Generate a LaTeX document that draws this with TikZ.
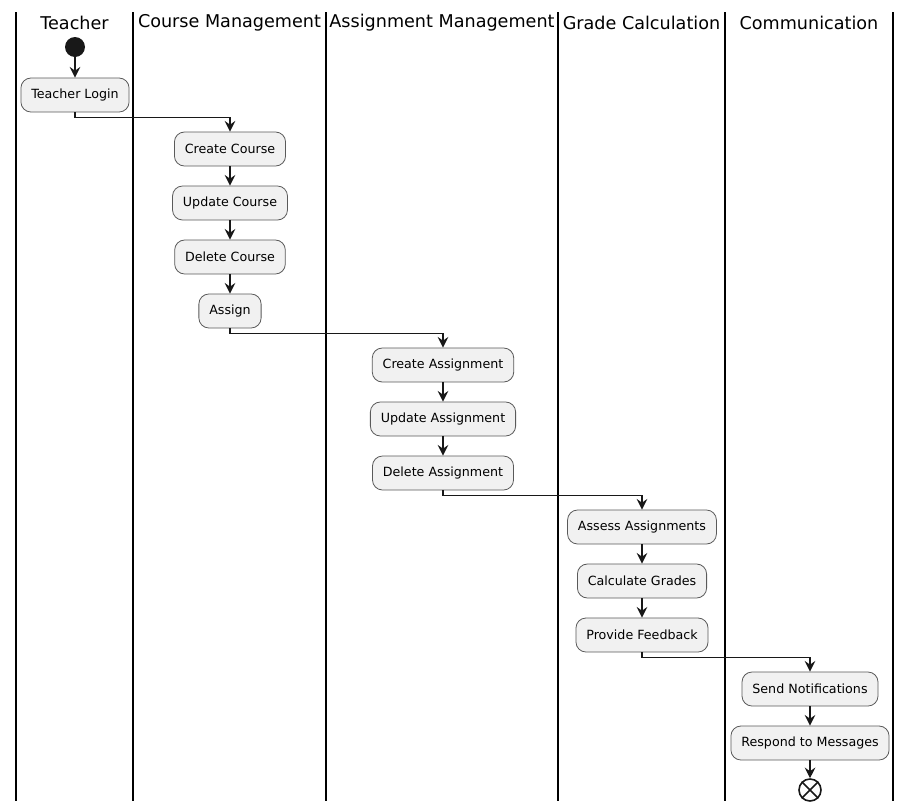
\documentclass[tikz,border=0pt]{standalone}
\usepackage{fontspec}
\setmainfont{DejaVu Sans}
\usetikzlibrary{arrows.meta}
\definecolor{ink}{HTML}{181818}
\definecolor{actfill}{HTML}{F1F1F1}
\definecolor{actline}{HTML}{5A5A5A}
\begin{document}
\begin{tikzpicture}[x=0.75pt,y=-0.75pt,
  act/.style={draw=actline, line width=0.6pt, fill=actfill, rounded corners=7.5pt,
    minimum height=25.5pt, inner xsep=7.8pt, inner ysep=0pt, text=black,
    font=\fontsize{9.5}{11}\selectfont},
  arr/.style={draw=ink, line width=0.8pt, -{Stealth[length=8pt,width=8pt,inset=2.8pt]}},
  lane/.style={draw=black, line width=1.3pt},
  hdr/.style={font=\fontsize{13.2}{16}\selectfont, text=black, inner sep=0pt}]
\useasboundingbox[fill=white] (0,0) rectangle (913,811);
% lanes
\foreach \xx in {16,133,326,558,725,893}{
  \draw[lane] (\xx,12) -- (\xx,801);
}
% headers
\node[hdr] (h1) at (74.5,22.5) {Teacher};
\node[hdr] (h2) at (229.5,22.5) {Course Management};
\node[hdr] (h3) at (442,22.5) {Assignment Management};
\node[hdr] (h4) at (641.5,22.5) {Grade Calculation};
\node[hdr] (h5) at (809,22.5) {Communication};
% start
\node[circle, fill=ink, minimum size=15pt, inner sep=0pt] (start) at (75,47) {};
% activities
\node[act] (login) at (75,95) {Teacher Login};
\node[act] (cc) at (230,149) {Create Course};
\node[act] (uc) at (230,203) {Update Course};
\node[act] (dc) at (230,257) {Delete Course};
\node[act] (asg) at (230,311) {Assign};
\node[act] (ca) at (443,365) {Create Assignment};
\node[act] (ua) at (443,419) {Update Assignment};
\node[act] (da) at (443,473) {Delete Assignment};
\node[act] (aa) at (642,527) {Assess Assignments};
\node[act] (cg) at (642,581) {Calculate Grades};
\node[act] (pf) at (642,635) {Provide Feedback};
\node[act] (sn) at (810,689) {Send Notifications};
\node[act] (rm) at (810,743) {Respond to Messages};
% end
\node[circle, draw=ink, line width=1.2pt, fill=white, minimum size=16.5pt, inner sep=0pt] (stop) at (810,790) {};
\draw[ink, line width=1.2pt] (stop.45) -- (stop.225) (stop.135) -- (stop.315);
% connectors
\draw[arr] (start) -- (login);
\draw[arr] (login.south) -- ++(0,5) -| (cc.north);
\draw[arr] (cc) -- (uc);
\draw[arr] (uc) -- (dc);
\draw[arr] (dc) -- (asg);
\draw[arr] (asg.south) -- ++(0,5) -| (ca.north);
\draw[arr] (ca) -- (ua);
\draw[arr] (ua) -- (da);
\draw[arr] (da.south) -- ++(0,5) -| (aa.north);
\draw[arr] (aa) -- (cg);
\draw[arr] (cg) -- (pf);
\draw[arr] (pf.south) -- ++(0,5) -| (sn.north);
\draw[arr] (sn) -- (rm);
\draw[arr] (rm) -- (stop);
\end{tikzpicture}
\end{document}
